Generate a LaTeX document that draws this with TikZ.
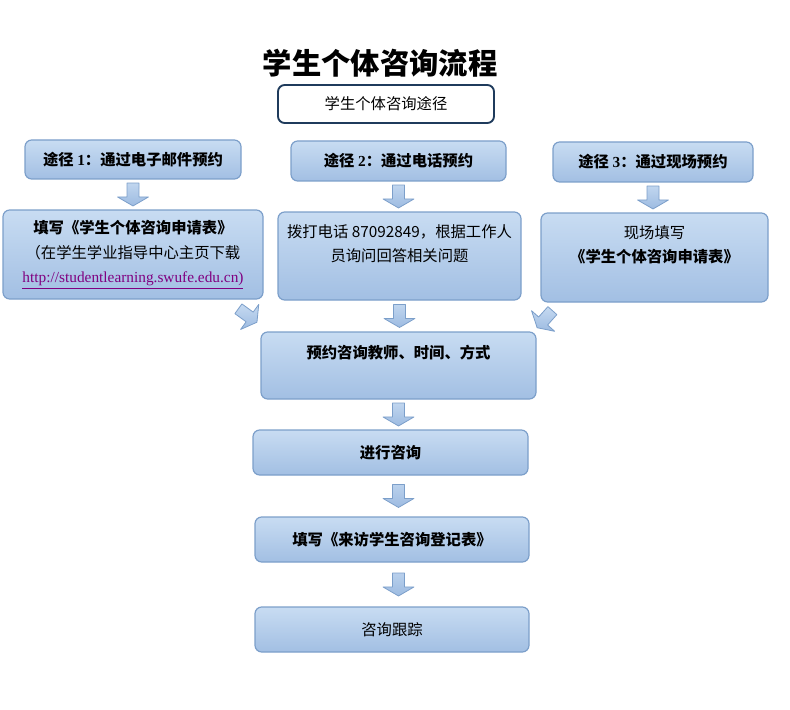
\documentclass[tikz,border=0pt]{standalone}
\usepackage{fontspec}
\setmainfont{Noto Sans CJK SC}
\newfontfamily\lserif{Liberation Serif}
\usetikzlibrary{positioning,calc}

\definecolor{boxtop}{HTML}{C8DCF2}
\definecolor{boxbottom}{HTML}{A2BFE3}
\definecolor{boxline}{HTML}{7C9FCA}
\definecolor{arrowtop}{HTML}{C6DAF1}
\definecolor{arrowbottom}{HTML}{9DBBE1}
\definecolor{titleline}{HTML}{1F3B5C}
\definecolor{urlpurple}{HTML}{800080}

\newcommand{\bodyfont}{\fontsize{11.5}{18.5}\selectfont}

\tikzset{
  flowbox/.style={draw=boxline, line width=0.9pt, rounded corners=5pt,
    top color=boxtop, bottom color=boxbottom, align=center, inner sep=0pt, font=\bodyfont},
  pathbox/.style={draw=titleline, line width=1.4pt, rounded corners=5pt,
    fill=white, align=center, inner sep=0pt, font=\bodyfont},
  boxtext/.style={inner sep=0pt, align=center, font=\bodyfont},
  fatarrow/.style={draw=boxline, line width=0.6pt, line join=round,
    top color=arrowtop, bottom color=arrowbottom,
    to path={
      ($(\tikztostart)!.5!(\tikztotarget)$) coordinate (fa-m)
      ($(fa-m)!8.6pt!(\tikztostart)$) coordinate (fa-s)
      ($(fa-m)!8.6pt!(\tikztotarget)$) coordinate (fa-t)
      ($(fa-s)!4.5pt!90:(fa-t)$) -- ($(fa-t)!8.11pt!-33.69:(fa-s)$)
      -- ($(fa-t)!13.42pt!-59.81:(fa-s)$) -- (fa-t)
      -- ($(fa-t)!13.42pt!59.81:(fa-s)$) -- ($(fa-t)!8.11pt!33.69:(fa-s)$)
      -- ($(fa-s)!4.5pt!-90:(fa-t)$) -- cycle}}
}

\begin{document}
\begin{tikzpicture}[x=0.75pt, y=-0.75pt]
  \useasboundingbox (0,0) rectangle (790,710);

  % 标题
  \node[font=\fontsize{22}{26}\selectfont\bfseries] (title) at (380,63) {学生个体咨询流程};
  \node[pathbox, minimum width=162pt, minimum height=28.5pt] (path) at (386,104) {学生个体咨询途径};

  % 三种途径
  \node[flowbox, minimum width=162pt, minimum height=29.25pt] (w1) at (133,159.5)
    {\bfseries 途径 {\lserif 1}：通过电子邮件预约};
  \node[flowbox, minimum width=161.25pt, minimum height=30pt] (w2) at (398.5,161)
    {\bfseries 途径 {\lserif 2}：通过电话预约};
  \node[flowbox, minimum width=150pt, minimum height=30pt] (w3) at (653,162)
    {\bfseries 途径 {\lserif 3}：通过现场预约};

  \node[flowbox, minimum width=195pt, minimum height=66.75pt] (r1) at (133,254.5)
    {\textbf{填写《学生个体咨询申请表》}\\（在学生学业指导中心主页下载\\
     {\lserif\color{urlpurple}\underline{http://studentlearning.swufe.edu.cn)}}};
  \node[flowbox, minimum width=182.25pt, minimum height=66pt] (r2) at (399.5,256) {};
  \node[boxtext, below=9.5pt of r2.north] (r2t) {拨打电话 87092849，根据工作人\\员询问回答相关问题};
  \node[flowbox, minimum width=170.25pt, minimum height=66.75pt] (r3) at (654.5,257.5) {};
  \node[boxtext, below=9.5pt of r3.north] (r3t) {现场填写\\\textbf{《学生个体咨询申请表》}};

  % 流程
  \node[flowbox, minimum width=206.25pt, minimum height=50.25pt] (m1) at (398.5,365.5) {};
  \node[boxtext, below=10pt of m1.north] (m1t) {\bfseries 预约咨询教师、时间、方式};
  \node[flowbox, minimum width=206.25pt, minimum height=33.75pt] (m2) at (390.5,452.5) {\bfseries 进行咨询};
  \node[flowbox, minimum width=205.5pt, minimum height=33.75pt] (m3) at (392,539.5) {\bfseries 填写《来访学生咨询登记表》};
  \node[flowbox, minimum width=205.5pt, minimum height=33.75pt] (m4) at (392,629.5) {咨询跟踪};

  % 箭头
  \draw[fatarrow] (w1.south) to (r1.north);
  \draw[fatarrow] (w2.south) to (w2.south |- r2.north);
  \draw[fatarrow] (w3.south) to (w3.south |- r3.north);
  \draw[fatarrow] ([xshift=-21.5pt,yshift=-5pt]r1.south east) to ([yshift=5pt]m1.north west);
  \draw[fatarrow] (r2.south) to (r2.south |- m1.north);
  \draw[fatarrow] ([xshift=11pt,yshift=-3.75pt]r3.south west) to ([xshift=-1.6pt,yshift=0.5pt]m1.north east);
  \draw[fatarrow] (m1.south) to (m1.south |- m2.north);
  \draw[fatarrow] (m2.south -| m1.south) to (m3.north -| m1.south);
  \draw[fatarrow] (m3.south -| m1.south) to (m4.north -| m1.south);
\end{tikzpicture}
\end{document}
